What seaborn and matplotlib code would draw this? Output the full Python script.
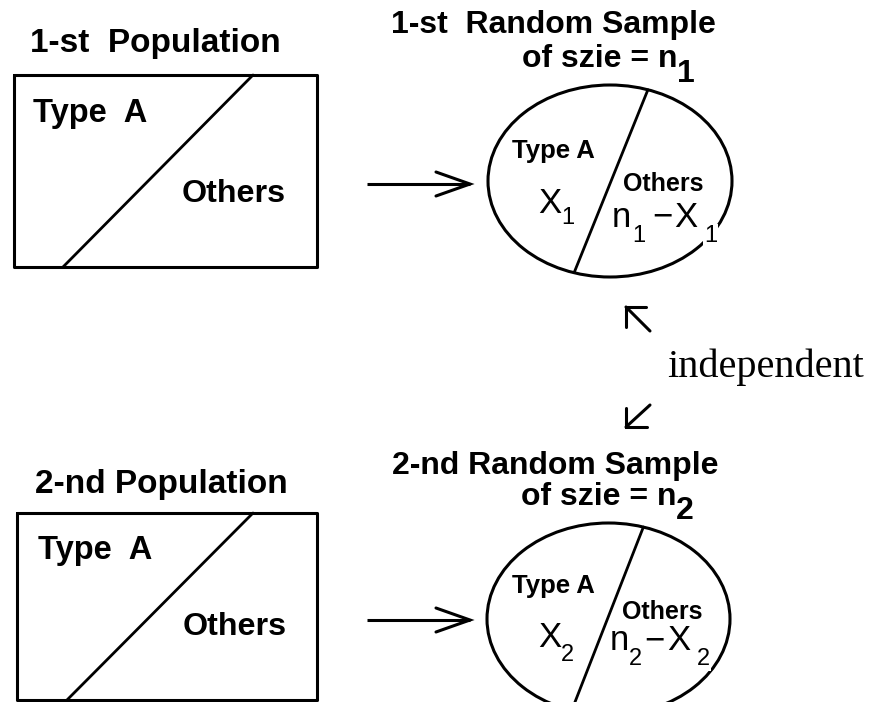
import numpy as np
import pandas as pd
import matplotlib
matplotlib.use("Agg")
import matplotlib.pyplot as plt
from matplotlib.patches import Ellipse
import seaborn as sns

# ---- content ----
population_titles = ["1-st  Population", "2-nd Population"]
sample_titles = ["1-st  Random Sample", "2-nd Random Sample"]
size_text = "of szie = n"
sample_index = ["1", "2"]
box_labels = ["Type  A", "Others"]
ellipse_labels = ["Type A", "Others"]
count_symbol = "X"
rest_symbol = "n"
connector_label = "independent"

sns.set_theme(style="white")
plt.rcParams["font.family"] = ["Liberation Sans", "DejaVu Sans"]
plt.rcParams["text.color"] = "black"

W, H = 878, 702
fig = plt.figure(figsize=(W / 100, H / 100), dpi=100)
ax = fig.add_axes([0, 0, 1, 1])
ax.set_xlim(0, W)
ax.set_ylim(H, 0)
ax.axis("off")

LW = 2.2

# ---- layout (pixels) for the two panels ----
panels = [
    dict(box=(14, 75, 317, 267), diag=((63, 267), (253, 75)),
         pop_title=(30, 52), box_type=(33, 122), box_oth=(182, 202),
         arrow_y=184,
         s_title=(391, 33), s_size=(522, 67), s_sub=(677, 82),
         ell=(610, 181, 244, 192), div=((647, 92), (576, 268)),
         e_type=(512, 158), e_oth=(623, 191),
         X=(538, 213), Xs=(561, 224),
         n=(612, 227), ns=(632, 242), minus=(652, 227), X2=(674, 227), X2s=(704, 242)),
    dict(box=(17, 513, 317, 700), diag=((67, 700), (253, 513)),
         pop_title=(35, 493), box_type=(38, 559), box_oth=(183, 635),
         arrow_y=620,
         s_title=(392, 474), s_size=(521, 505), s_sub=(676, 519),
         ell=(608.5, 619, 243, 192), div=((643, 528), (575, 702)),
         e_type=(512, 593), e_oth=(622, 619),
         X=(538, 647), Xs=(561, 661),
         n=(610, 650), ns=(629, 665), minus=(644, 650), X2=(667, 650), X2s=(697, 665)),
]


def clip_to_ellipse(p1, p2, cx, cy, w, h):
    a, b = w / 2, h / 2
    p1 = np.array(p1, float)
    d = np.array(p2, float) - p1
    A = (d[0] / a) ** 2 + (d[1] / b) ** 2
    B = 2 * ((p1[0] - cx) * d[0] / a ** 2 + (p1[1] - cy) * d[1] / b ** 2)
    C = ((p1[0] - cx) / a) ** 2 + ((p1[1] - cy) / b) ** 2 - 1
    disc = np.sqrt(B * B - 4 * A * C)
    t1, t2 = (-B - disc) / (2 * A), (-B + disc) / (2 * A)
    return p1 + t1 * d, p1 + t2 * d


def seg(pts, lw=LW):
    df = pd.DataFrame(pts, columns=["x", "y"])
    sns.lineplot(data=df, x="x", y="y", sort=False, estimator=None,
                 color="black", lw=lw, ax=ax, legend=False)


for i, p in enumerate(panels):
    x0, y0, x1, y1 = p["box"]
    seg([(x0, y0), (x1, y0), (x1, y1), (x0, y1), (x0, y0)])
    seg(list(p["diag"]), lw=2.0)

    ax.text(*p["pop_title"], population_titles[i], fontsize=24, fontweight="bold",
            ha="left", va="baseline")
    ax.text(*p["box_type"], box_labels[0], fontsize=23.5, fontweight="bold",
            ha="left", va="baseline")
    ax.text(*p["box_oth"], box_labels[1], fontsize=23.2, fontweight="bold",
            ha="left", va="baseline")

    # arrow population -> sample
    ay = p["arrow_y"]
    ax.plot([367, 470], [ay, ay], color="black", lw=LW, solid_capstyle="butt")
    ax.plot([436, 470, 436], [ay - 12, ay, ay + 12], color="black", lw=LW,
            solid_joinstyle="miter")

    # sample titles
    ax.text(*p["s_title"], sample_titles[i], fontsize=23, fontweight="bold",
            ha="left", va="baseline")
    ax.text(*p["s_size"], size_text, fontsize=23, fontweight="bold",
            ha="left", va="baseline")
    ax.text(*p["s_sub"], sample_index[i], fontsize=23, fontweight="bold",
            ha="left", va="baseline")

    # ellipse
    cx, cy, ew, eh = p["ell"]
    ax.add_patch(Ellipse((cx, cy), ew, eh, fill=False, ec="black", lw=LW))
    q1, q2 = clip_to_ellipse(*p["div"], cx, cy, ew, eh)
    seg([tuple(q1), tuple(q2)], lw=2.0)

    ax.text(*p["e_type"], ellipse_labels[0], fontsize=18.5, fontweight="bold",
            ha="left", va="baseline")
    ax.text(*p["e_oth"], ellipse_labels[1], fontsize=18, fontweight="bold",
            ha="left", va="baseline")
    ax.text(*p["X"], count_symbol, fontsize=25, ha="left", va="baseline")
    ax.text(*p["Xs"], sample_index[i], fontsize=17, ha="left", va="baseline")
    ax.text(*p["n"], rest_symbol, fontsize=25, ha="left", va="baseline")
    ax.text(*p["ns"], sample_index[i], fontsize=17, ha="left", va="baseline")
    ax.text(*p["minus"], "\u2212", fontsize=25, ha="left", va="baseline")
    ax.text(*p["X2"], count_symbol, fontsize=25, ha="left", va="baseline")
    ax.text(*p["X2s"], sample_index[i], fontsize=17, ha="left", va="baseline",
            bbox=dict(fc="white", ec="none", pad=0.5), zorder=5)

# independence arrows
ax.plot([650, 626], [331, 307], color="black", lw=2.2)
ax.plot([646, 626, 626], [307, 307, 327], color="black", lw=2.2,
        solid_joinstyle="miter")
ax.plot([650, 626], [405, 427], color="black", lw=2.2)
ax.plot([626, 626, 647], [408, 427, 427], color="black", lw=2.2,
        solid_joinstyle="miter")

ax.text(667, 377, connector_label, fontsize=29, family=["Liberation Serif", "DejaVu Serif"],
        ha="left", va="baseline")

fig.savefig("out.png", dpi=100, facecolor="white")
